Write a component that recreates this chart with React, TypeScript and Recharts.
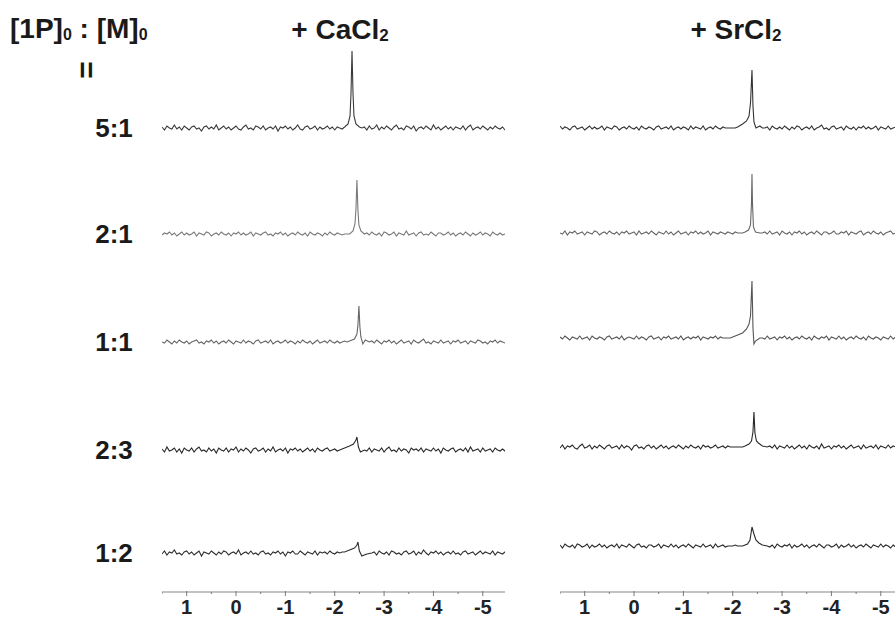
import React from 'react';
import { LineChart, Line, XAxis, YAxis } from 'recharts';

// chemical shift grid (ppm) used for the noisy baseline of every trace
const PPM_GRID = [
  1.5, 1.45, 1.4, 1.35, 1.3, 1.25, 1.2, 1.15, 1.1, 1.05,
  1, 0.95, 0.9, 0.85, 0.8, 0.75, 0.7, 0.65, 0.6, 0.55,
  0.5, 0.45, 0.4, 0.35, 0.3, 0.25, 0.2, 0.15, 0.1, 0.05,
  0, -0.05, -0.1, -0.15, -0.2, -0.25, -0.3, -0.35, -0.4, -0.45,
  -0.5, -0.55, -0.6, -0.65, -0.7, -0.75, -0.8, -0.85, -0.9, -0.95,
  -1, -1.05, -1.1, -1.15, -1.2, -1.25, -1.3, -1.35, -1.4, -1.45,
  -1.5, -1.55, -1.6, -1.65, -1.7, -1.75, -1.8, -1.85, -1.9, -1.95,
  -2, -2.05, -2.1, -2.15, -2.2, -2.25, -2.3, -2.35, -2.4, -2.45,
  -2.5, -2.55, -2.6, -2.65, -2.7, -2.75, -2.8, -2.85, -2.9, -2.95,
  -3, -3.05, -3.1, -3.15, -3.2, -3.25, -3.3, -3.35, -3.4, -3.45,
  -3.5, -3.55, -3.6, -3.65, -3.7, -3.75, -3.8, -3.85, -3.9, -3.95,
  -4, -4.05, -4.1, -4.15, -4.2, -4.25, -4.3, -4.35, -4.4, -4.45,
  -4.5, -4.55, -4.6, -4.65, -4.7, -4.75, -4.8, -4.85, -4.9, -4.95,
  -5, -5.05, -5.1, -5.15, -5.2, -5.25, -5.3, -5.35, -5.4, -5.45,
  -5.5,
];

const RATIOS = ['5:1', '2:1', '1:1', '2:3', '1:2'];
const TICKS = [1.5, 1, 0.5, 0, -0.5, -1, -1.5, -2, -2.5, -3, -3.5, -4, -4.5, -5];

// baseline noise, one value per grid point
const CA_51 = [
  1, -2, 2, 0, -1, 3, -1, 1, -2, 2,
  0, -2, 1, 2, -1, 0, -3, 1, 2, -1,
  1, -1, 3, -2, 0, 2, -1, 1, -2, 0,
  2, -1, -2, 1, 3, -1, 0, -2, 2, 1,
  -1, 2, -2, 0, 1, -1, 2, -3, 1, 0,
  2, -1, 1, -2, 0, 3, -1, -2, 1, 2,
  -1, 0, 2, -2, 1, -1, 0, 2, -1, 1,
  -2, 1, 0, -1, 1, 0, 0, 0, 0, 0,
  0, 0, 1, -2, 2, -1, 0, 3, -2, 1,
  -1, 2, 0, -2, 1, 3, -1, 0, -2, 2,
  1, -1, 2, -3, 0, 1, -1, 2, 0, -2,
  3, -1, 1, -2, 0, 2, -1, 1, -2, 1,
  0, -1, 2, -2, 1, 3, -2, 0, 1, -1,
  2, 0, -2, 1, -1, 2, 0, -1, 1, -2,
  1,
];
const CA_21 = [
  -1, 1, 0, 2, -1, 1, -2, 0, 2, -1,
  1, -1, 0, 2, -2, 1, 0, -1, 2, 1,
  -2, 0, 1, -1, 2, 0, -1, 1, -2, 1,
  0, 2, -1, 1, -1, 0, 2, -2, 1, 0,
  -1, 1, 2, -1, 0, -2, 1, 0, 2, -1,
  1, -2, 0, 1, -1, 2, 0, -1, 1, -2,
  2, 0, -1, 1, 0, -2, 1, -1, 2, 0,
  -1, 1, 0, -1, 0, 0, 0, 0, 0, 0,
  0, 0, 0, 1, -1, 2, 0, -1, 1, -2,
  2, 1, -1, 0, 2, -2, 1, 0, -1, 3,
  -1, 0, 1, -2, 1, 2, -1, 0, -1, 2,
  0, -2, 1, 1, -1, 0, 2, -1, 1, -2,
  0, 1, -1, 2, 0, -2, 1, -1, 0, 2,
  -1, 1, 0, -2, 2, 0, -1, 1, -1, 0,
  1,
];
const CA_11 = [
  0, -1, 2, 0, -2, 1, -1, 2, 0, -1,
  1, -2, 0, 1, 2, -1, 0, -2, 1, 0,
  2, -1, 1, -2, 0, 1, -1, 2, 0, -2,
  1, 0, -1, 2, -1, 1, 0, -2, 1, 2,
  -1, 0, 1, -1, 2, -2, 0, 1, -1, 0,
  2, -1, 1, 0, -2, 1, -1, 2, 0, -1,
  1, -2, 0, 2, -1, 0, 1, -1, 2, 0,
  -1, 1, -1, 0, 1, 0, 0, 0, 0, 0,
  0, 0, 0, 0, -1, 1, -1, 2, 0, -2,
  1, 0, 2, -1, 1, -2, 0, 2, -1, 0,
  1, -2, 2, 0, -1, 1, 3, -1, 0, -2,
  1, 0, -1, 2, -1, 0, 1, -2, 1, 0,
  2, -1, 0, 1, -2, 1, 0, -1, 2, 1,
  -1, 0, -2, 1, 0, 2, -1, 1, 0, -1,
  0,
];
const CA_23 = [
  1, -2, 3, -1, 0, 2, -2, 1, -3, 2,
  0, -1, 2, -2, 1, 3, -1, 0, -2, 2,
  -1, 1, -3, 2, 0, -1, 2, -2, 1, 0,
  3, -2, 1, -1, 2, 0, -3, 1, 2, -1,
  0, 2, -2, 1, -1, 3, -2, 0, 1, -1,
  2, -3, 1, 0, 2, -1, 1, -2, 0, 2,
  -1, 1, -2, 2, 0, -1, 1, 2, -1, 0,
  1, -1, 2, 0, 1, 0, 0, 0, 0, 0,
  0, 0, 0, -1, 2, -2, 1, 0, -1, 2,
  -2, 1, 3, -1, 0, -2, 2, -1, 1, 0,
  -3, 2, 0, 1, -1, 2, -2, 1, 0, -1,
  2, -1, 1, -3, 2, 0, -1, 1, 2, -2,
  0, 1, -1, 2, -2, 3, -1, 0, 1, -2,
  2, -1, 0, 1, -2, 2, 0, -1, 1, -1,
  0,
];
const CA_12 = [
  -1, 2, -2, 1, 0, 3, -1, 0, -2, 1,
  2, -1, 1, -2, 0, 2, -3, 1, 0, -1,
  2, 0, -2, 1, -1, 2, 1, -2, 0, 1,
  -1, 3, -2, 0, 1, -1, 2, -1, 0, -2,
  1, 2, -1, 0, -2, 1, 0, 2, -1, 1,
  -3, 1, 0, 2, -1, -1, 2, 0, -2, 1,
  0, -1, 2, -2, 1, 0, 1, -1, 2, 0,
  -1, 1, 0, 1, 2, 0, 0, 0, 0, 0,
  0, 0, 0, 0, 0, -1, 1, -2, 2, 0,
  -1, 1, -2, 2, 1, -1, 0, -2, 1, 2,
  -1, 0, 2, -2, 1, -1, 3, 0, -2, 1,
  0, 2, -1, 1, -2, 0, 1, -1, 2, -1,
  0, -2, 1, 2, -1, 0, 1, -2, 0, 2,
  -1, 1, 0, -1, 2, -2, 1, 0, -1, 1,
  0,
];
const SR_51 = [
  2, -1, 1, 0, -2, 1, 2, -1, 0, 1,
  -2, 0, 2, -1, 1, -1, 0, 2, -2, 1,
  0, -1, 2, 1, -2, 0, 1, -1, 2, 0,
  -1, 1, -2, 2, 0, -1, 1, 0, -2, 1,
  2, -1, 0, 1, -1, 2, -2, 0, 1, -1,
  1, 0, -2, 2, -1, 1, 0, -1, 2, -2,
  0, 1, -1, 2, 0, -1, 1, 0, 0, 0,
  0, 0, 0, 0, 0, 0, 0, 0, 0, 0,
  0, 0, 0, 0, 1, -2, 2, 0, -1, 1,
  -1, 2, 0, -2, 1, -1, 2, 1, -2, 0,
  1, -1, 2, -2, 0, 1, 3, -1, 0, -2,
  1, 2, -1, 0, 1, -2, 2, 0, -1, 1,
  -2, 1, 0, 2, -1, 1, -1, 0, 2, -2,
  1, 0, -1, 2, -1, 0, 1, -2, 2, 0,
  -1,
];
const SR_21 = [
  0, -1, 2, -2, 1, 0, 2, -1, 0, 1,
  -2, 1, 0, -1, 2, 1, -2, 0, 1, -1,
  2, 0, -1, 1, -2, 1, 0, 2, -1, 0,
  1, -2, 2, -1, 0, 1, -1, 2, 0, -2,
  1, 0, -1, 2, -1, 1, -2, 0, 2, -1,
  0, 1, -2, 1, 0, 2, -1, 1, -1, 0,
  2, -2, 1, 0, -1, 1, 0, -1, 1, 0,
  -1, 1, 0, 0, 0, 0, 0, 0, 0, 0,
  0, 0, 0, 1, -1, 2, -1, 0, 1, -2,
  2, 0, -1, 1, -2, 1, 0, 2, -1, 1,
  -2, 0, 1, -1, 2, 0, -2, 1, 1, -1,
  0, 2, -1, -1, 1, 0, 2, -2, 1, 0,
  -1, 1, 2, -2, 0, 1, -1, 2, 0, -1,
  1, -2, 0, 1, 2, -1, 0, -1, 1, 0,
  1,
];
const SR_11 = [
  1, -1, 2, 0, -2, 1, 0, -1, 2, -1,
  0, 1, -2, 2, 0, -1, 1, 0, -2, 1,
  2, -1, 0, 1, -1, 2, -2, 0, 1, 0,
  -1, 2, -1, 1, 0, -2, 1, 2, -1, 0,
  1, -2, 1, 0, 2, -1, 0, 1, -1, 2,
  -2, 0, 1, -1, 1, 0, 2, -2, 1, 0,
  -1, 1, 0, 2, -1, 1, 0, 0, 0, 0,
  0, 0, 0, 0, 0, 0, 0, 0, 0, 0,
  0, 0, 0, -1, 2, -1, 0, 1, -2, 1,
  0, 2, -1, 1, -2, 0, 1, -1, 2, 0,
  -1, 1, -2, 2, 0, -1, 1, 0, 2, -2,
  1, 0, -1, 2, -1, 1, -2, 0, 1, -1,
  2, 0, -1, 1, -2, 2, 0, -1, 1, 0,
  -2, 1, 0, -1, 2, -1, 1, 0, -1, 1,
  0,
];
const SR_23 = [
  -1, 2, -2, 1, 0, 2, -1, -2, 1, 3,
  -1, 0, 2, -2, 1, -1, 2, 0, -2, 1,
  2, -1, 0, 1, -2, 2, -1, 1, 0, -3,
  1, 2, -1, 0, -2, 1, 2, -1, 1, -2,
  0, 2, -1, 1, -2, 0, 1, -1, 2, 0,
  -2, 1, -1, 2, 0, -1, 1, -2, 2, 0,
  1, -1, 0, 2, -1, 0, 1, -1, 1, 0,
  0, 0, 0, 0, 0, 0, 0, 0, 0, 0,
  0, 0, 0, 0, 0, 1, -1, 2, -2, 1,
  0, -1, 2, -1, 1, -2, 0, 2, -1, 1,
  -2, 2, 0, -1, 1, -2, 3, -1, 0, 1,
  -2, 1, 0, 2, -1, 1, -2, 0, 2, -1,
  0, 1, -2, 2, -1, 0, 1, -1, 2, -2,
  1, 0, -1, 2, -1, 1, 0, -2, 1, 0,
  1,
];
const SR_12 = [
  1, -2, 2, 0, -1, 1, -2, 2, 1, -1,
  0, 2, -2, 1, -1, 0, 2, -1, 1, -2,
  0, 1, -1, 2, -2, 1, 0, -1, 2, 0,
  -2, 1, 2, -1, 0, -2, 1, 1, -1, 0,
  2, -2, 1, 0, -1, 2, -1, 1, -2, 0,
  1, -1, 2, 0, -2, 1, 0, -1, 2, -1,
  0, 1, -2, 2, -1, 0, 1, -1, 0, 0,
  0, 1, 0, 0, 0, 0, 0, 0, 0, 0,
  0, 0, 0, 0, 0, -1, 1, -2, 2, 0,
  -1, 1, 0, 2, -2, 1, -1, 0, 2, -1,
  1, -2, 0, 1, -1, 2, 0, -2, 1, 1,
  -1, 0, 2, -2, 1, -1, 0, 2, -1, 1,
  -2, 0, 1, -1, 2, 0, -2, 1, 0, -1,
  2, -1, 1, 0, -2, 1, -1, 2, 0, -1,
  0,
];

// signal region of each trace: [ppm, intensity]
const CA_51_PEAK = [[-2.2, 1], [-2.27, 4], [-2.31, 12], [-2.33, 35], [-2.35, 77], [-2.37, 35], [-2.39, 12], [-2.43, 4], [-2.5, 1]];
const CA_21_PEAK = [[-2.3, 0], [-2.37, 3], [-2.41, 10], [-2.43, 25], [-2.45, 54], [-2.47, 24], [-2.49, 9], [-2.53, 3], [-2.6, 0]];
const CA_11_PEAK = [[-2.3, 1], [-2.4, 3], [-2.45, 8], [-2.47, 17], [-2.49, 36], [-2.51, 15], [-2.53, 5], [-2.57, -2], [-2.62, 2], [-2.7, 0]];
const CA_23_PEAK = [[-2.1, 0], [-2.2, 2], [-2.3, 4], [-2.38, 6], [-2.43, 10], [-2.45, 13], [-2.48, 3], [-2.52, -2], [-2.6, 0]];
const CA_12_PEAK = [[-2.2, 1], [-2.3, 3], [-2.4, 5], [-2.45, 8], [-2.47, 11], [-2.5, 2], [-2.55, -3], [-2.65, -1], [-2.75, 0]];
const SR_51_PEAK = [[-2.1, 1], [-2.2, 4], [-2.28, 7], [-2.33, 12], [-2.36, 25], [-2.39, 58], [-2.41, 22], [-2.43, 6], [-2.47, 0], [-2.55, 2], [-2.6, 0]];
const SR_21_PEAK = [[-2.25, 1], [-2.32, 3], [-2.36, 8], [-2.38, 30], [-2.39, 59], [-2.4, 30], [-2.42, 6], [-2.46, 1], [-2.55, 0]];
const SR_11_PEAK = [[-2.0, 1], [-2.1, 3], [-2.2, 5], [-2.28, 9], [-2.33, 14], [-2.36, 22], [-2.39, 57], [-2.41, 10], [-2.43, -6], [-2.46, -3], [-2.55, 0]];
const SR_23_PEAK = [[-2.25, 1], [-2.33, 3], [-2.38, 6], [-2.41, 15], [-2.43, 35], [-2.45, 14], [-2.48, 6], [-2.52, 4], [-2.6, 1], [-2.7, 0]];
const SR_12_PEAK = [[-2.2, 0], [-2.3, 2], [-2.35, 6], [-2.39, 19], [-2.43, 12], [-2.47, 6], [-2.53, 3], [-2.6, 1], [-2.7, 0]];

type Pt = { ppm: number; v: number };

function buildTrace(noise: number[], peak: number[][]): Pt[] {
  const xs = peak.map((p) => p[0]);
  const lo = Math.min(...xs);
  const hi = Math.max(...xs);
  const base = PPM_GRID.map((ppm, i) => ({ ppm, v: noise[i] ?? 0 })).filter(
    (p) => p.ppm < lo - 1e-6 || p.ppm > hi + 1e-6
  );
  return [...base, ...peak.map(([ppm, v]) => ({ ppm, v }))].sort((a, b) => b.ppm - a.ppm);
}

const FONT = '"Liberation Sans", Arial, Helvetica, sans-serif';
const DOMAIN: [number, number] = [-5.45, 1.5];
const AXIS_Y = 592;

const PANELS = [
  {
    left: 162,
    baselines: [128, 234, 342, 450, 553],
    colors: ['#3a3a3a', '#7a7a7a', '#666666', '#2a2a2a', '#2e2e2e'],
    traces: [
      buildTrace(CA_51, CA_51_PEAK),
      buildTrace(CA_21, CA_21_PEAK),
      buildTrace(CA_11, CA_11_PEAK),
      buildTrace(CA_23, CA_23_PEAK),
      buildTrace(CA_12, CA_12_PEAK),
    ],
  },
  {
    left: 560,
    baselines: [128, 233, 338, 447, 546],
    colors: ['#333333', '#666666', '#555555', '#2a2a2a', '#2a2a2a'],
    traces: [
      buildTrace(SR_51, SR_51_PEAK),
      buildTrace(SR_21, SR_21_PEAK),
      buildTrace(SR_11, SR_11_PEAK),
      buildTrace(SR_23, SR_23_PEAK),
      buildTrace(SR_12, SR_12_PEAK),
    ],
  },
];

const ShiftTick = (props: any) => {
  const { x, y, payload } = props;
  const major = Number.isInteger(payload.value);
  return (
    <g>
      <line x1={x} x2={x} y1={y - (major ? 1 : 0)} y2={y + (major ? 4 : 2)} stroke="#777" strokeWidth={1} />
      {major && (
        <text x={x} y={y + 22} textAnchor="middle" fontFamily={FONT} fontWeight="bold" fontSize={20} fill="#222">
          {payload.value}
        </text>
      )}
    </g>
  );
};

function Trace({ data, color, left, baseline, withAxis }: { data: Pt[]; color: string; left: number; baseline: number; withAxis: boolean }) {
  const above = 85;
  const below = withAxis ? AXIS_Y - baseline : 15;
  const plotH = above + below;
  const height = withAxis ? plotH + 36 : plotH;
  return (
    <div style={{ position: 'absolute', left, top: baseline - above }}>
      <LineChart width={343} height={height} data={data} margin={{ top: 0, right: 0, bottom: 0, left: 0 }}>
        <XAxis
          dataKey="ppm"
          type="number"
          domain={DOMAIN}
          reversed
          allowDataOverflow
          hide={!withAxis}
          ticks={TICKS}
          interval={0}
          tick={<ShiftTick />}
          tickLine={false}
          tickSize={0}
          tickMargin={0}
          height={36}
          axisLine={{ stroke: '#888', strokeWidth: 1.2 }}
        />
        <YAxis type="number" domain={[-below, above]} hide width={0} allowDataOverflow />
        <Line
          type="linear"
          dataKey="v"
          stroke={color}
          strokeWidth={1.1}
          dot={false}
          isAnimationActive={false}
        />
      </LineChart>
    </div>
  );
}

export default function App() {
  return (
    <div style={{ position: 'fixed', left: 0, top: 0, width: 895, height: 627, overflow: 'hidden', background: '#fff' }}>
      {PANELS.map((panel, pi) =>
        panel.traces.map((data, ti) => (
          <Trace
            key={`${pi}-${ti}`}
            data={data}
            color={panel.colors[ti]}
            left={panel.left}
            baseline={panel.baselines[ti]}
            withAxis={ti === panel.traces.length - 1}
          />
        ))
      )}
      <svg width={895} height={627} style={{ position: 'absolute', left: 0, top: 0, pointerEvents: 'none' }}>
        <g fontFamily={FONT} fontWeight="bold" fill="#1a1a1a">
          <text x={10} y={38} fontSize={28}>
            [1P]<tspan fontSize={16} dy={2}>0</tspan>
            <tspan fontSize={28} dy={-2}> : [M]</tspan>
            <tspan fontSize={16} dy={2}>0</tspan>
          </text>
          <text x={86} y={70} fontSize={30} textAnchor="middle" dominantBaseline="central" transform="rotate(90 86 70)">
            =
          </text>
          <text x={340} y={39} fontSize={28} textAnchor="middle">
            + CaCl<tspan fontSize={17} dy={2}>2</tspan>
          </text>
          <text x={736} y={39} fontSize={28} textAnchor="middle">
            + SrCl<tspan fontSize={17} dy={2}>2</tspan>
          </text>
          {RATIOS.map((r, i) => (
            <text key={r} x={114} y={PANELS[0].baselines[i]} fontSize={26} textAnchor="middle" dominantBaseline="central">
              {r}
            </text>
          ))}
        </g>
      </svg>
    </div>
  );
}
